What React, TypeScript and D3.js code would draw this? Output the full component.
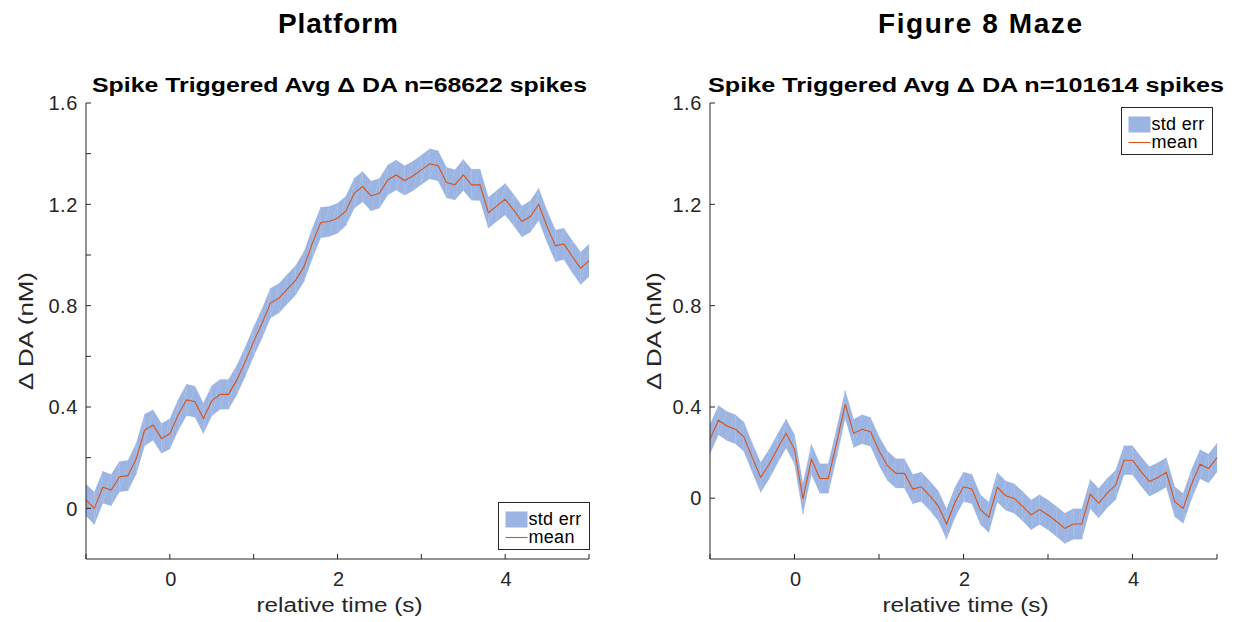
import React from 'react';
import * as d3 from 'd3';

// time axis (s), 0.1 s bins
const time = [
  -1.0, -0.9, -0.8, -0.7, -0.6, -0.5, -0.4, -0.3, -0.2, -0.1,
  0.0, 0.1, 0.2, 0.3, 0.4, 0.5, 0.6, 0.7, 0.8, 0.9,
  1.0, 1.1, 1.2, 1.3, 1.4, 1.5, 1.6, 1.7, 1.8, 1.9,
  2.0, 2.1, 2.2, 2.3, 2.4, 2.5, 2.6, 2.7, 2.8, 2.9,
  3.0, 3.1, 3.2, 3.3, 3.4, 3.5, 3.6, 3.7, 3.8, 3.9,
  4.0, 4.1, 4.2, 4.3, 4.4, 4.5, 4.6, 4.7, 4.8, 4.9,
  5.0,
];

const platformMean = [
  0.033, 0.0, 0.083, 0.072, 0.125, 0.129, 0.197, 0.309, 0.329, 0.276,
  0.294, 0.369, 0.428, 0.421, 0.355, 0.424, 0.45, 0.45, 0.507, 0.579,
  0.658, 0.73, 0.81, 0.829, 0.865, 0.9, 0.954, 1.046, 1.128, 1.132,
  1.145, 1.174, 1.244, 1.27, 1.233, 1.244, 1.296, 1.316, 1.294, 1.312,
  1.336, 1.36, 1.352, 1.286, 1.277, 1.316, 1.277, 1.277, 1.167, 1.194,
  1.22, 1.178, 1.132, 1.152, 1.2, 1.112, 1.036, 1.044, 0.994, 0.948,
  0.978,
];
const platformErr = [
  0.062, 0.064, 0.063, 0.062, 0.06, 0.06, 0.061, 0.062, 0.06, 0.059,
  0.06, 0.061, 0.062, 0.061, 0.06, 0.06, 0.059, 0.059, 0.058, 0.058,
  0.058, 0.058, 0.059, 0.058, 0.058, 0.058, 0.059, 0.06, 0.06, 0.059,
  0.059, 0.058, 0.059, 0.06, 0.059, 0.058, 0.059, 0.059, 0.058, 0.058,
  0.058, 0.059, 0.06, 0.06, 0.06, 0.061, 0.061, 0.062, 0.061, 0.061,
  0.062, 0.062, 0.061, 0.062, 0.063, 0.063, 0.063, 0.062, 0.063, 0.064,
  0.064,
];

const mazeMean = [
  0.273, 0.348, 0.325, 0.312, 0.283, 0.2, 0.122, 0.174, 0.236, 0.296,
  0.233, 0.037, 0.194, 0.118, 0.118, 0.26, 0.41, 0.296, 0.312, 0.302,
  0.227, 0.168, 0.138, 0.138, 0.076, 0.085, 0.05, 0.01, -0.062, 0.024,
  0.085, 0.076, -0.005, -0.035, 0.083, 0.05, 0.039, 0.008, -0.026, -0.005,
  -0.026, -0.052, -0.079, -0.062, -0.062, 0.056, 0.02, 0.06, 0.092, 0.19,
  0.19, 0.146, 0.106, 0.122, 0.142, 0.026, 0.0, 0.096, 0.174, 0.157,
  0.2,
];
const mazeErr = [
  0.058, 0.058, 0.057, 0.057, 0.058, 0.058, 0.059, 0.058, 0.057, 0.057,
  0.058, 0.06, 0.059, 0.058, 0.058, 0.057, 0.055, 0.056, 0.057, 0.057,
  0.057, 0.058, 0.058, 0.058, 0.058, 0.058, 0.058, 0.059, 0.06, 0.059,
  0.058, 0.058, 0.059, 0.06, 0.058, 0.058, 0.058, 0.058, 0.059, 0.059,
  0.059, 0.059, 0.06, 0.06, 0.06, 0.058, 0.058, 0.058, 0.058, 0.057,
  0.057, 0.058, 0.058, 0.058, 0.058, 0.059, 0.059, 0.058, 0.057, 0.057,
  0.057,
];

const xTicks = [-1, 0, 1, 2, 3, 4, 5];
const xTickLabels = ['', '0', '', '2', '', '4', ''];
const platformYTicks = [0, 0.2, 0.4, 0.6, 0.8, 1.0, 1.2, 1.4, 1.6];
const platformYLabels = ['0', '', '0.4', '', '0.8', '', '1.2', '', '1.6'];
const mazeYTicks = [0.04, 0.4, 0.8, 1.2, 1.6];
const mazeYLabels = ['0', '0.4', '0.8', '1.2', '1.6'];

const FONT = '"Liberation Sans", Arial, Helvetica, sans-serif';
const AX = '#262626';
const BAND = '#9bb4e2';
const LINE = '#d95319';

interface PanelProps {
  left: number;
  right: number;
  heading: string;
  headingX: number;
  headingW: number;
  subtitle: string;
  subtitleX: number;
  subtitleW: number;
  mean: number[];
  err: number[];
  yTicks: number[];
  yLabels: string[];
  yLabelX: number;
  legend: { x: number; y: number };
}

const TOP = 103;
const BOTTOM = 559;

const Panel: React.FC<PanelProps> = (p) => {
  const x = d3.scaleLinear().domain([-1, 5]).range([p.left, p.right]);
  const y = d3.scaleLinear().domain([-0.2, 1.6]).range([BOTTOM, TOP]);
  const hi = p.mean.map((m, i) => m + p.err[i]);
  const lo = p.mean.map((m, i) => m - p.err[i]);

  // band drawn as triangles per segment (like a patched fill)
  const tris: string[] = [];
  for (let i = 0; i < time.length - 1; i++) {
    const a = [x(time[i]), y(hi[i])];
    const b = [x(time[i + 1]), y(hi[i + 1])];
    const c = [x(time[i + 1]), y(lo[i + 1])];
    const d = [x(time[i]), y(lo[i])];
    tris.push(`M${a}L${b}L${d}Z`);
    tris.push(`M${b}L${c}L${d}Z`);
  }

  const line = d3.line<number>()
    .x((_, i) => x(time[i]))
    .y((v) => y(v));

  const tl = 5;
  const lg = p.legend;

  return (
    <g fontFamily={FONT}>
      <text x={p.headingX} y={33} textAnchor="middle" fontSize={28} fontWeight="bold" fill="#000"
        textLength={p.headingW} lengthAdjust="spacing">
        {p.heading}
      </text>
      <text x={p.subtitleX} y={92} textAnchor="middle" fontSize={20} fontWeight="bold" fill="#000"
        textLength={p.subtitleW} lengthAdjust="spacingAndGlyphs">
        {p.subtitle}
      </text>

      {tris.map((d, i) => (
        <path key={i} d={d} fill={BAND} stroke={BAND} strokeWidth={0.2} />
      ))}
      <path d={line(p.mean) || ''} fill="none" stroke={LINE} strokeWidth={1.1} />

      {/* axes */}
      <line x1={p.left} x2={p.left} y1={TOP} y2={BOTTOM} stroke={AX} strokeWidth={1} />
      <line x1={p.left} x2={p.right} y1={BOTTOM} y2={BOTTOM} stroke={AX} strokeWidth={1} />
      {p.yTicks.map((t, i) => (
        <g key={'y' + i}>
          <line x1={p.left} x2={p.left + tl} y1={y(t)} y2={y(t)} stroke={AX} />
          <text x={p.left - 8} y={y(t)} dy="0.36em" textAnchor="end" fontSize={20} letterSpacing={0.6} fill={AX}>
            {p.yLabels[i]}
          </text>
        </g>
      ))}
      {xTicks.map((t, i) => (
        <g key={'x' + i}>
          <line x1={x(t)} x2={x(t)} y1={BOTTOM} y2={BOTTOM - tl} stroke={AX} />
          <text x={x(t) + 1} y={586} textAnchor="middle" fontSize={20} fill={AX}>
            {xTickLabels[i]}
          </text>
        </g>
      ))}
      <text x={(p.left + p.right) / 2 + 2} y={612} textAnchor="middle" fontSize={20} fill={AX}
        textLength={166} lengthAdjust="spacingAndGlyphs">
        relative time (s)
      </text>
      <text
        transform={`translate(${p.yLabelX},${(TOP + BOTTOM) / 2}) rotate(-90)`}
        textAnchor="middle"
        fontSize={21}
        fill={AX}
        textLength={118}
        lengthAdjust="spacingAndGlyphs"
      >
        Δ DA (nM)
      </text>

      {/* legend */}
      <rect x={lg.x} y={lg.y} width={91} height={47} fill="#fff" stroke={AX} strokeWidth={1} />
      <rect x={lg.x + 7} y={lg.y + 9} width={22} height={16} fill={BAND} />
      <line x1={lg.x + 7} x2={lg.x + 29} y1={lg.y + 35} y2={lg.y + 35} stroke={LINE} strokeWidth={1.1} />
      <text x={lg.x + 30} y={lg.y + 22} fontSize={18} letterSpacing={0.3} fill="#000">std err</text>
      <text x={lg.x + 30} y={lg.y + 40} fontSize={18} letterSpacing={0.3} fill="#000">mean</text>
    </g>
  );
};

const App: React.FC = () => {
  return (
    <div style={{ position: 'absolute', left: 0, top: 0 }}>
      <svg width={1238} height={622} style={{ display: 'block', background: '#fff' }}>
        <Panel
          left={86}
          right={589}
          heading="Platform"
          headingX={338}
          headingW={120}
          subtitle="Spike Triggered Avg Δ DA n=68622 spikes"
          subtitleX={339.5}
          subtitleW={495}
          mean={platformMean}
          err={platformErr}
          yTicks={platformYTicks}
          yLabels={platformYLabels}
          yLabelX={33}
          legend={{ x: 498.5, y: 502.5 }}
        />
        <Panel
          left={710}
          right={1217}
          heading="Figure 8 Maze"
          headingX={980}
          headingW={204}
          subtitle="Spike Triggered Avg Δ DA n=101614 spikes"
          subtitleX={966}
          subtitleW={516}
          mean={mazeMean}
          err={mazeErr}
          yTicks={mazeYTicks}
          yLabels={mazeYLabels}
          yLabelX={661}
          legend={{ x: 1121.5, y: 107.5 }}
        />
      </svg>
    </div>
  );
};

export default App;
